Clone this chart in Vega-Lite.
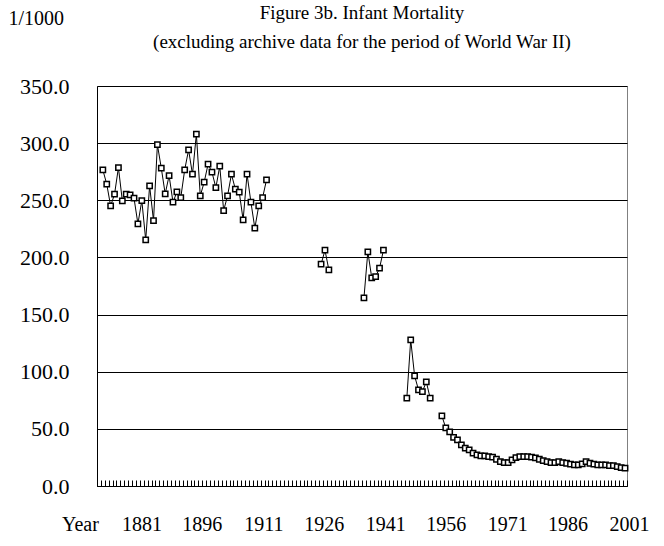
{
  "$schema": "https://vega.github.io/schema/vega-lite/v6.json",
  "width": 530,
  "height": 400,
  "autosize": {"type": "none"},
  "padding": {"left": 97, "top": 86, "right": 37, "bottom": 60},
  "background": "white",
  "config": {
    "font": "Liberation Serif",
    "view": {"stroke": "#808080", "strokeWidth": 1}
  },
  "title": {
    "text": "Figure 3b. Infant Mortality",
    "subtitle": "(excluding archive data for the period of World War II)",
    "font": "Liberation Serif",
    "subtitleFont": "Liberation Serif",
    "fontSize": 19,
    "subtitleFontSize": 19,
    "fontWeight": "normal",
    "color": "black",
    "subtitleColor": "black",
    "anchor": "middle",
    "frame": "group",
    "offset": -44,
    "subtitlePadding": 10
  },
  "data": {
    "values": [
      {"year": 1867, "imr": 276.6, "period": "A"},
      {"year": 1868, "imr": 264.1, "period": "A"},
      {"year": 1869, "imr": 245.1, "period": "A"},
      {"year": 1870, "imr": 255.3, "period": "A"},
      {"year": 1871, "imr": 278.6, "period": "A"},
      {"year": 1872, "imr": 249.5, "period": "A"},
      {"year": 1873, "imr": 255.3, "period": "A"},
      {"year": 1874, "imr": 254.7, "period": "A"},
      {"year": 1875, "imr": 251.8, "period": "A"},
      {"year": 1876, "imr": 229.4, "period": "A"},
      {"year": 1877, "imr": 249.7, "period": "A"},
      {"year": 1878, "imr": 215.3, "period": "A"},
      {"year": 1879, "imr": 262.6, "period": "A"},
      {"year": 1880, "imr": 232.2, "period": "A"},
      {"year": 1881, "imr": 298.7, "period": "A"},
      {"year": 1882, "imr": 278.1, "period": "A"},
      {"year": 1883, "imr": 255.6, "period": "A"},
      {"year": 1884, "imr": 271.6, "period": "A"},
      {"year": 1885, "imr": 248.3, "period": "A"},
      {"year": 1886, "imr": 257.3, "period": "A"},
      {"year": 1887, "imr": 252.4, "period": "A"},
      {"year": 1888, "imr": 276.6, "period": "A"},
      {"year": 1889, "imr": 294.1, "period": "A"},
      {"year": 1890, "imr": 272.8, "period": "A"},
      {"year": 1891, "imr": 307.8, "period": "A"},
      {"year": 1892, "imr": 253.9, "period": "A"},
      {"year": 1893, "imr": 265.8, "period": "A"},
      {"year": 1894, "imr": 281.6, "period": "A"},
      {"year": 1895, "imr": 274.6, "period": "A"},
      {"year": 1896, "imr": 261.1, "period": "A"},
      {"year": 1897, "imr": 279.8, "period": "A"},
      {"year": 1898, "imr": 241.0, "period": "A"},
      {"year": 1899, "imr": 253.9, "period": "A"},
      {"year": 1900, "imr": 272.8, "period": "A"},
      {"year": 1901, "imr": 259.7, "period": "A"},
      {"year": 1902, "imr": 257.1, "period": "A"},
      {"year": 1903, "imr": 232.8, "period": "A"},
      {"year": 1904, "imr": 272.8, "period": "A"},
      {"year": 1905, "imr": 248.3, "period": "A"},
      {"year": 1906, "imr": 225.6, "period": "A"},
      {"year": 1907, "imr": 245.1, "period": "A"},
      {"year": 1908, "imr": 252.4, "period": "A"},
      {"year": 1909, "imr": 267.9, "period": "A"},
      {"year": 1923, "imr": 194.1, "period": "B"},
      {"year": 1924, "imr": 206.3, "period": "B"},
      {"year": 1925, "imr": 189.1, "period": "B"},
      {"year": 1934, "imr": 164.6, "period": "C"},
      {"year": 1935, "imr": 204.9, "period": "C"},
      {"year": 1936, "imr": 182.2, "period": "C"},
      {"year": 1937, "imr": 183.2, "period": "C"},
      {"year": 1938, "imr": 190.6, "period": "C"},
      {"year": 1939, "imr": 206.3, "period": "C"},
      {"year": 1945, "imr": 76.8, "period": "D"},
      {"year": 1946, "imr": 127.8, "period": "D"},
      {"year": 1947, "imr": 96.3, "period": "D"},
      {"year": 1948, "imr": 84.1, "period": "D"},
      {"year": 1949, "imr": 82.6, "period": "D"},
      {"year": 1950, "imr": 91.1, "period": "D"},
      {"year": 1951, "imr": 76.8, "period": "D"},
      {"year": 1954, "imr": 61.3, "period": "E"},
      {"year": 1955, "imr": 50.8, "period": "E"},
      {"year": 1956, "imr": 47.4, "period": "E"},
      {"year": 1957, "imr": 42.5, "period": "E"},
      {"year": 1958, "imr": 40.3, "period": "E"},
      {"year": 1959, "imr": 36.0, "period": "E"},
      {"year": 1960, "imr": 33.1, "period": "E"},
      {"year": 1961, "imr": 31.6, "period": "E"},
      {"year": 1962, "imr": 28.7, "period": "E"},
      {"year": 1963, "imr": 27.2, "period": "E"},
      {"year": 1964, "imr": 26.3, "period": "E"},
      {"year": 1965, "imr": 26.3, "period": "E"},
      {"year": 1966, "imr": 25.7, "period": "E"},
      {"year": 1967, "imr": 25.2, "period": "E"},
      {"year": 1968, "imr": 23.4, "period": "E"},
      {"year": 1969, "imr": 21.4, "period": "E"},
      {"year": 1970, "imr": 20.5, "period": "E"},
      {"year": 1971, "imr": 20.5, "period": "E"},
      {"year": 1972, "imr": 22.8, "period": "E"},
      {"year": 1973, "imr": 24.9, "period": "E"},
      {"year": 1974, "imr": 25.7, "period": "E"},
      {"year": 1975, "imr": 25.7, "period": "E"},
      {"year": 1976, "imr": 25.7, "period": "E"},
      {"year": 1977, "imr": 25.2, "period": "E"},
      {"year": 1978, "imr": 24.6, "period": "E"},
      {"year": 1979, "imr": 23.4, "period": "E"},
      {"year": 1980, "imr": 22.2, "period": "E"},
      {"year": 1981, "imr": 21.4, "period": "E"},
      {"year": 1982, "imr": 20.5, "period": "E"},
      {"year": 1983, "imr": 20.5, "period": "E"},
      {"year": 1984, "imr": 21.4, "period": "E"},
      {"year": 1985, "imr": 20.5, "period": "E"},
      {"year": 1986, "imr": 19.9, "period": "E"},
      {"year": 1987, "imr": 19.1, "period": "E"},
      {"year": 1988, "imr": 18.5, "period": "E"},
      {"year": 1989, "imr": 18.5, "period": "E"},
      {"year": 1990, "imr": 19.3, "period": "E"},
      {"year": 1991, "imr": 21.4, "period": "E"},
      {"year": 1992, "imr": 19.9, "period": "E"},
      {"year": 1993, "imr": 19.1, "period": "E"},
      {"year": 1994, "imr": 18.5, "period": "E"},
      {"year": 1995, "imr": 18.5, "period": "E"},
      {"year": 1996, "imr": 18.5, "period": "E"},
      {"year": 1997, "imr": 17.9, "period": "E"},
      {"year": 1998, "imr": 17.9, "period": "E"},
      {"year": 1999, "imr": 17.0, "period": "E"},
      {"year": 2000, "imr": 16.1, "period": "E"},
      {"year": 2001, "imr": 15.6, "period": "E"}
    ]
  },
  "encoding": {
    "y": {
      "field": "imr",
      "type": "quantitative",
      "scale": {"domain": [0, 350], "nice": false},
      "axis": {
        "values": [0, 50, 100, 150, 200, 250, 300, 350],
        "format": ".1f",
        "grid": true,
        "gridColor": "black",
        "gridWidth": 1,
        "gridOpacity": 1,
        "ticks": false,
        "domain": true,
        "domainColor": "black",
        "domainWidth": 1,
        "labelFont": "Liberation Serif",
        "labelFontSize": 22,
        "labelColor": "black",
        "labelPadding": 28,
        "title": "1/1000",
        "titleFont": "Liberation Serif",
        "titleFontSize": 20,
        "titleFontWeight": "normal",
        "titleColor": "black",
        "titleAngle": 0,
        "titleAlign": "left",
        "titleBaseline": "alphabetic",
        "titleX": -89,
        "titleY": -62
      }
    }
  },
  "resolve": {"axis": {"x": "independent"}},
  "layer": [
    {
      "mark": {"type": "line", "color": "black", "strokeWidth": 1},
      "encoding": {
        "x": {
          "field": "year",
          "type": "quantitative",
          "scale": {"domain": [1865.5, 2001.5], "nice": false, "zero": false},
          "axis": {
            "orient": "bottom",
            "title": null,
            "labels": false,
            "grid": false,
            "ticks": true,
            "tickSize": -6,
            "tickColor": "black",
            "tickWidth": 1,
            "domain": true,
            "domainColor": "black",
            "domainWidth": 1,
            "values": [1865.5,1866.5,1867.5,1868.5,1869.5,1870.5,1871.5,1872.5,1873.5,1874.5,1875.5,1876.5,1877.5,1878.5,1879.5,1880.5,1881.5,1882.5,1883.5,1884.5,1885.5,1886.5,1887.5,1888.5,1889.5,1890.5,1891.5,1892.5,1893.5,1894.5,1895.5,1896.5,1897.5,1898.5,1899.5,1900.5,1901.5,1902.5,1903.5,1904.5,1905.5,1906.5,1907.5,1908.5,1909.5,1910.5,1911.5,1912.5,1913.5,1914.5,1915.5,1916.5,1917.5,1918.5,1919.5,1920.5,1921.5,1922.5,1923.5,1924.5,1925.5,1926.5,1927.5,1928.5,1929.5,1930.5,1931.5,1932.5,1933.5,1934.5,1935.5,1936.5,1937.5,1938.5,1939.5,1940.5,1941.5,1942.5,1943.5,1944.5,1945.5,1946.5,1947.5,1948.5,1949.5,1950.5,1951.5,1952.5,1953.5,1954.5,1955.5,1956.5,1957.5,1958.5,1959.5,1960.5,1961.5,1962.5,1963.5,1964.5,1965.5,1966.5,1967.5,1968.5,1969.5,1970.5,1971.5,1972.5,1973.5,1974.5,1975.5,1976.5,1977.5,1978.5,1979.5,1980.5,1981.5,1982.5,1983.5,1984.5,1985.5,1986.5,1987.5,1988.5,1989.5,1990.5,1991.5,1992.5,1993.5,1994.5,1995.5,1996.5,1997.5,1998.5,1999.5,2000.5,2001.5]
          }
        },
        "detail": {"field": "period", "type": "nominal"}
      }
    },
    {
      "mark": {"type": "point", "shape": "square", "filled": true, "fill": "white", "stroke": "black", "strokeWidth": 1.5, "size": 28, "opacity": 1},
      "encoding": {
        "x": {
          "field": "year",
          "type": "quantitative",
          "axis": {
            "orient": "bottom",
            "title": null,
            "grid": false,
            "ticks": false,
            "domain": false,
            "values": [1866, 1881, 1896, 1911, 1926, 1941, 1956, 1971, 1986, 2001],
            "format": "d",
            "labelExpr": "datum.value == 1866 ? 'Year' : datum.label",
            "labelFont": "Liberation Serif",
            "labelFontSize": 20,
            "labelColor": "black",
            "labelPadding": 28,
            "labelOverlap": false,
            "labelFlush": false,
            "labelOffset": {
              "condition": [
                {"test": "datum.value == 1866", "value": -19},
                {"test": "datum.value == 1881", "value": -16},
                {"test": "datum.value == 1896", "value": -14},
                {"test": "datum.value == 1911", "value": -11},
                {"test": "datum.value == 1926", "value": -9},
                {"test": "datum.value == 1941", "value": -6},
                {"test": "datum.value == 1956", "value": -4},
                {"test": "datum.value == 1971", "value": -1},
                {"test": "datum.value == 1986", "value": 1}
              ],
              "value": 4
            }
          }
        }
      }
    }
  ]
}
